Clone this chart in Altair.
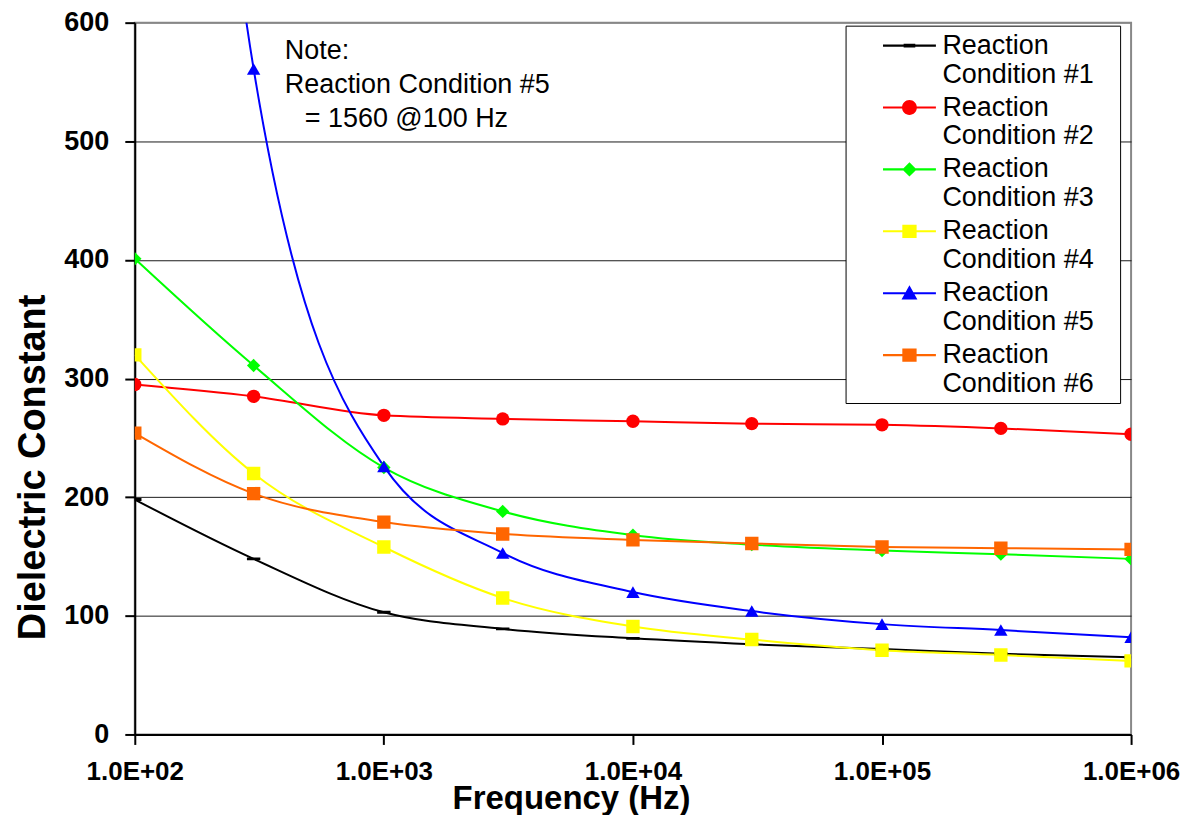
import pandas as pd
import altair as alt

freq = [100, 300, 1000, 3000, 10000, 30000, 100000, 300000, 1000000]
series_names = ["Reaction Condition #1", "Reaction Condition #2", "Reaction Condition #3",
                "Reaction Condition #4", "Reaction Condition #5", "Reaction Condition #6"]
rc1 = [198, 148, 103, 89, 81, 76, 72, 68, 65]
rc2 = [295, 285, 269, 266, 264, 262, 261, 258, 253]
rc3 = [401, 311, 225, 188, 168, 160, 155, 152, 148]
rc4 = [320, 220, 158, 115, 91, 80, 71, 67, 62]
rc5 = [1560, 561, 226, 153, 120, 104, 93, 88, 82]
rc6 = [254, 203, 179, 169, 164, 161, 158, 157, 156]
y_ticks = [0, 100, 200, 300, 400, 500, 600]
x_ticks = [100, 1000, 10000, 100000, 1000000]
# blank braille cell used as a non-trimmed indent
BLANK = "\u2800"
note_lines = ["Note:", "Reaction Condition #5", BLANK + "= 1560 @100 Hz"]

colors = ["#000000", "#FF0000", "#00FF00", "#FFFF00", "#0000FF", "#FF6600"]
marker_shapes = ["M-1,-0.22H1V0.22H-1Z", "circle", "diamond", "square", "triangle-up", "square"]

# legend symbols: a line segment with the marker on it (drawn twice as wide as the symbol box)
seg = "M-2,-0.08H2V0.08H-2Z "
circ = ("M0.56,0C0.56,0.31,0.31,0.56,0,0.56C-0.31,0.56,-0.56,0.31,-0.56,0"
        "C-0.56,-0.31,-0.31,-0.56,0,-0.56C0.31,-0.56,0.56,-0.31,0.56,0Z")
sq = "M-0.54,-0.5H0.54V0.5H-0.54Z"
legend_shapes = [
    seg + "M-0.44,-0.14H0.44V0.14H-0.44Z",
    seg + circ,
    seg + "M0,-0.54L0.54,0L0,0.54L-0.54,0Z",
    seg + sq,
    seg + "M0,-0.6L0.6,0.48L-0.6,0.48Z",
    seg + sq,
]

rows = []
for name, vals in zip(series_names, [rc1, rc2, rc3, rc4, rc5, rc6]):
    for f, v in zip(freq, vals):
        rows.append({"freq": f, "dc": v, "series": name})
df = pd.DataFrame(rows)

FONT = "Liberation Sans"

x_enc = alt.X("freq:Q", scale=alt.Scale(type="log", domain=[100, 1000000]),
              axis=alt.Axis(values=x_ticks, grid=False, labelFlush=False,
                            labelExpr="'1.0E+0' + round(log(datum.value) / LN10)",
                            labelFontSize=26, labelFontWeight="bold", labelPadding=14,
                            labelColor="black", tickSize=10, tickWidth=2, tickColor="black",
                            domainColor="black", domainWidth=2,
                            title="Frequency (Hz)", titleFontSize=33, titleFontWeight="bold",
                            titleX=437, titleY=74, titleBaseline="alphabetic",
                            titleColor="black"))
y_enc = alt.Y("dc:Q", scale=alt.Scale(domain=[0, 600]),
              axis=alt.Axis(values=y_ticks, grid=True,
                            gridColor={"condition": {"test": "datum.value === 600", "value": "#888888"},
                                       "value": "#1a1a1a"},
                            labelFontSize=27, labelFontWeight="bold", labelPadding=16,
                            labelColor="black", tickSize=10, tickWidth=2, tickColor="black",
                            domainColor="black", domainWidth=2,
                            title="Dielectric Constant", titleFontSize=38, titleFontWeight="bold",
                            titleAngle=270, titleX=-90, titleY=445, titleAlign="center",
                            titleBaseline="alphabetic", titleColor="black"))

color_scale = alt.Scale(domain=series_names, range=colors)

base = alt.Chart(df)

lines = base.mark_line(interpolate="monotone", strokeWidth=2, clip=True).encode(
    x=x_enc, y=y_enc,
    color=alt.Color("series:N", scale=color_scale, legend=None),
)

points = base.mark_point(filled=True, size=180, opacity=1, clip=True).encode(
    x=x_enc, y=y_enc,
    color=alt.Color("series:N", scale=color_scale, legend=None),
    shape=alt.Shape("series:N", scale=alt.Scale(domain=series_names, range=marker_shapes), legend=None),
)

legend = alt.Legend(
    title=None, orient="none", legendX=712, legendY=3, direction="vertical",
    fillColor="white", strokeColor="black", padding=6,
    symbolSize=702, symbolOffset=44, labelOffset=19, rowPadding=6,
    labelFont=FONT, labelFontSize=27, labelColor="black", labelLimit=400,
    labelExpr="[slice(datum.label, 0, 8), slice(datum.label, 9) + '" + BLANK + "']",
)

# layer used only for the legend (its marks fall outside the plot and are clipped)
legend_layer = base.mark_point(filled=True, opacity=1, clip=True).encode(
    x=alt.datum(1), y=y_enc,
    color=alt.Color("series:N", scale=color_scale, legend=legend),
    shape=alt.Shape("series:N", scale=alt.Scale(domain=series_names, range=legend_shapes), legend=legend),
)

note = alt.Chart(alt.InlineData(values=[{}])).mark_text(
    align="left", baseline="top", fontSize=27, lineHeight=34, font=FONT, color="black"
).encode(x=alt.datum(400), y=alt.datum(587), text=alt.value(note_lines))

chart = alt.layer(lines, points, legend_layer, note).resolve_scale(
    color="independent", shape="independent"
).properties(
    width=998, height=713,
    padding={"left": 7, "top": 0, "right": 0, "bottom": 0},
).configure(font=FONT).configure_view(stroke="#888888", strokeWidth=2)

chart.save("out.html", embed_options={"renderer": "svg", "actions": False})
